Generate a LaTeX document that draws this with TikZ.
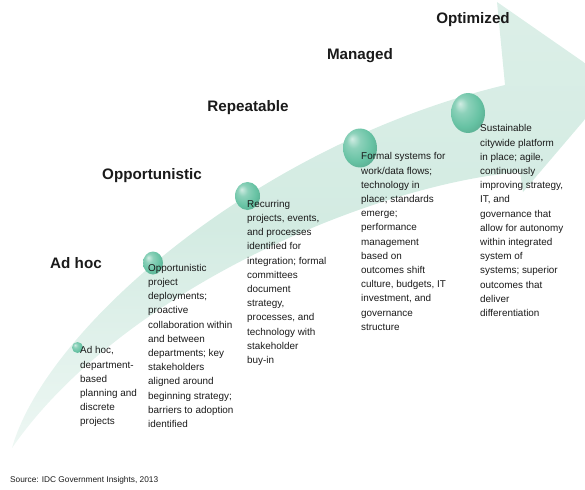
\documentclass[tikz,border=0pt]{standalone}
\usepackage{fontspec}
\setmainfont{Liberation Sans}
\setsansfont{Liberation Sans}
\definecolor{band}{HTML}{D3EBE2}
\definecolor{beadc}{HTML}{66C2A3}
\definecolor{ink}{HTML}{1A1A1A}
\pgfdeclareradialshading{beadglow}{\pgfpoint{-12bp}{12bp}}{%
  color(0bp)=(beadc!30!white); color(10bp)=(beadc!75!white);
  color(24bp)=(beadc); color(40bp)=(beadc!80!black); color(50bp)=(beadc!70!black)}
\tikzset{
  every node/.style={font=\sffamily,text=ink,inner sep=0pt},
  stage/.style={font=\sffamily\bfseries\fontsize{15.2}{18}\selectfont},
  blurb/.style={anchor=north west,align=left,font=\sffamily\fontsize{9.9}{14.2}\selectfont},
  bead/.style={shading=beadglow,draw=none},
  band/.style={top color=band!80!white,bottom color=band!40!white,middle color=band,draw=none}
}

\begin{document}
\begin{tikzpicture}[x=1pt,y=-1pt]
  \useasboundingbox (0,0) rectangle (585,489);
  \clip (0,0) rectangle (585,489);
  % Rising arrow behind the five stages.
  \shade[band] (12,448) .. controls (45,330) and (255,145) .. (505,85)
    -- (497,2) -- (615,84) -- (523,192) -- (520,172)
    .. controls (370,185) and (120,292) .. cycle;

  % Glossy beads, growing from stage to stage.
  \foreach \x/\y/\rx/\ry in {77.5/347.5/5.5/5.5,153/263/10/11.5,247.5/196/12.5/14,
      360/148/17/19.5,468/113/17/20}
    \shade[bead] (\x,\y) ellipse [x radius=\rx, y radius=\ry];

  % Stage names.
  \node[stage] (adhoc) at (76,263) {Ad hoc};
  \node[stage] (opport) at (152,176) {Opportunistic};
  \node[stage] (repeat) at (248,108) {Repeatable};
  \node[stage] (managed) at (360,56) {Managed};
  \node[stage] (optimized) at (473,20) {Optimized};

  % Stage descriptions.
  \node[blurb] (adhoctxt) at (80,346.5) {Ad hoc,\\department-\\based\\planning and\\discrete\\projects};
  \node[blurb] (opporttxt) at (148,264) {Opportunistic\\project\\deployments;\\proactive\\collaboration within\\and between\\departments; key\\stakeholders\\aligned around\\beginning strategy;\\barriers to adoption\\identified};
  \node[blurb] (repeattxt) at (247,200) {Recurring\\projects, events,\\and processes\\identified for\\integration; formal\\committees\\document\\strategy,\\processes, and\\technology with\\stakeholder\\buy-in};
  \node[blurb] (managedtxt) at (361,152.5) {Formal systems for\\work/data flows;\\technology in\\place; standards\\emerge;\\performance\\management\\based on\\outcomes shift\\culture, budgets, IT\\investment, and\\governance\\structure};
  \node[blurb] (optimizedtxt) at (480,124.5) {Sustainable\\citywide platform\\in place; agile,\\continuously\\improving strategy,\\IT, and\\governance that\\allow for autonomy\\within integrated\\system of\\systems; superior\\outcomes that\\deliver\\differentiation};

  \node[anchor=west,font=\sffamily\fontsize{8.3}{10}\selectfont] (source) at (10,480)
    {Source: IDC Government Insights, 2013};
\end{tikzpicture}
\end{document}
